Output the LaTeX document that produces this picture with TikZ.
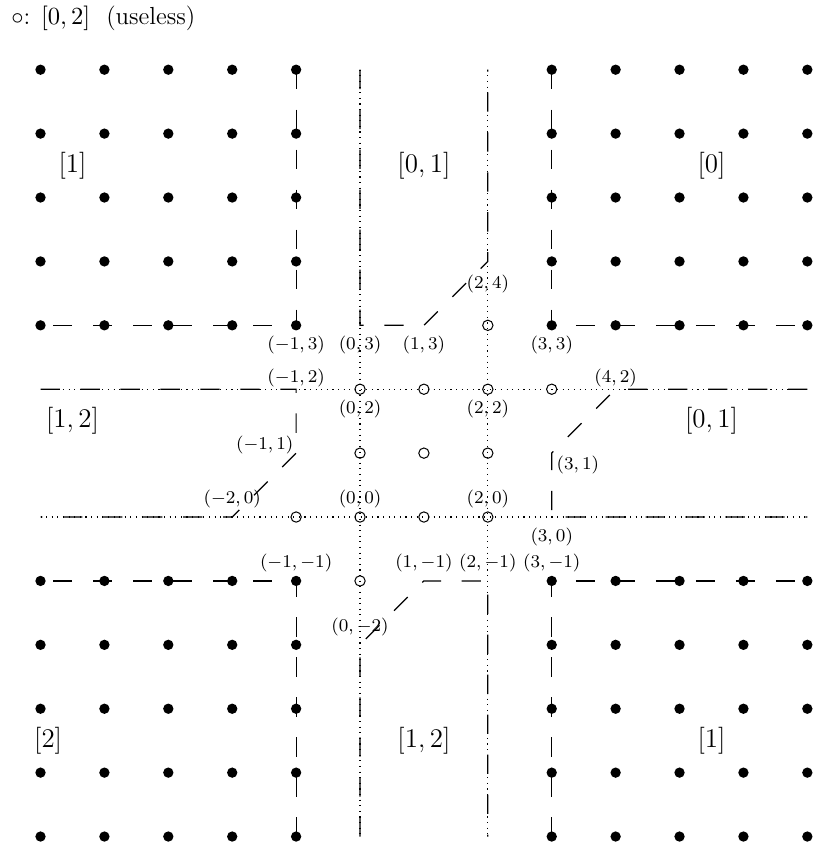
\documentclass[tikz,border=0pt]{standalone}
\usepackage{tikz}
\usetikzlibrary{positioning, calc}
\tikzset{
  fullDot/.style={circle, fill=black, inner sep=0pt, minimum size=4.6pt},
  openDot/.style={circle, draw=black, line width=0.45pt, inner sep=0pt, minimum size=4.6pt},
  wallLine/.style={dash pattern=on 8.6pt off 9.2pt, line width=0.55pt},
  gridLine/.style={dotted, line width=0.5pt},
  ptLbl/.style={font=\fontsize{8}{9.5}\selectfont, inner sep=1pt},
  regLbl/.style={font=\fontsize{12.5}{15}\selectfont},
  legendTxt/.style={font=\fontsize{11}{13}\selectfont, inner sep=1pt},
}

\begin{document}
\begin{tikzpicture}
  \useasboundingbox (-5.634,-5.148) rectangle (7.152,8.091);
  % corners of the walls
  \coordinate (nwC) at (-1,3);  \coordinate (neC) at (3,3);
  \coordinate (swC) at (-1,-1); \coordinate (seC) at (3,-1);
  \coordinate (tA) at (0,3);  \coordinate (tB) at (1,3);  \coordinate (tC) at (2,4);
  \coordinate (bA) at (0,-2); \coordinate (bB) at (1,-1); \coordinate (bC) at (2,-1);
  \coordinate (lA) at (-1,2); \coordinate (lB) at (-1,1); \coordinate (lC) at (-2,0);
  \coordinate (rA) at (4,2);  \coordinate (rB) at (3,1);  \coordinate (rC) at (3,0);
  % free ends at the border
  \coordinate (nwTop) at (-1,7); \coordinate (nwLeft) at (-5,3);
  \coordinate (neTop) at (3,7);  \coordinate (neRight) at (7,3);
  \coordinate (swBot) at (-1,-5); \coordinate (swLeft) at (-5,-1);
  \coordinate (seBot) at (3,-5);  \coordinate (seRight) at (7,-1);
  \coordinate (tTopL) at (0,7);  \coordinate (tTopR) at (2,7);
  \coordinate (bBotL) at (0,-5); \coordinate (bBotR) at (2,-5);
  \coordinate (lEndT) at (-5,2); \coordinate (lEndB) at (-5,0);
  \coordinate (rEndT) at (7,2);  \coordinate (rEndB) at (7,0);

  % dotted lines
  \draw[gridLine] (tTopL) -- (bBotL);
  \draw[gridLine] (tTopR) -- (bBotR);
  \draw[gridLine] (lEndT) -- (rEndT);
  \draw[gridLine] (lEndB) -- (rEndB);

  % dashed walls
  \draw[wallLine] (nwTop) -- (nwC) -- (nwLeft);
  \draw[wallLine] (neTop) -- (neC) -- (neRight);
  \draw[wallLine] (swBot) -- (swC) -- (swLeft);
  \draw[wallLine] (seBot) -- (seC) -- (seRight);
  \draw[wallLine] (tTopL) -- (tA) -- (tB) -- (tC) -- (tTopR);
  \draw[wallLine] (bBotL) -- (bA) -- (bB) -- (bC) -- (bBotR);
  \draw[wallLine] (lEndT) -- (lA) -- (lB) -- (lC) -- (lEndB);
  \draw[wallLine] (rEndT) -- (rA) -- (rB) -- (rC) -- (rEndB);

  % filled dots
  \foreach \x in {-5,...,-1} {
    \foreach \y in {3,...,7} \node[fullDot] (fd\x y\y) at (\x,\y) {};
    \foreach \y in {-5,...,-1} \node[fullDot] (fd\x y\y) at (\x,\y) {};
  }
  \foreach \x in {3,...,7} {
    \foreach \y in {3,...,7} \node[fullDot] (fd\x y\y) at (\x,\y) {};
    \foreach \y in {-5,...,-1} \node[fullDot] (fd\x y\y) at (\x,\y) {};
  }
  % open dots
  \foreach \x/\y in {2/3,0/2,1/2,2/2,3/2,0/1,1/1,2/1,-1/0,0/0,1/0,2/0,0/-1}
    \node[openDot] (od\x y\y) at (\x,\y) {};

  % point labels
  \node[ptLbl, below=3.6pt of nwC] (lbNw) {$(-1,3)$};
  \node[ptLbl, below=3.6pt of tA] (lbTA) {$(0,3)$};
  \node[ptLbl, below=3.6pt of tB] (lbTB) {$(1,3)$};
  \node[ptLbl, below=5pt of tC] (lbTC) {$(2,4)$};
  \node[ptLbl, below=3.6pt of neC] (lbNe) {$(3,3)$};
  \node[ptLbl, above=0pt of lA] (lbLA) {$(-1,2)$};
  \node[ptLbl, below=3.8pt of od0y2.center] (lb02) {$(0,2)$};
  \node[ptLbl, below=3.8pt of od2y2.center] (lb22) {$(2,2)$};
  \node[ptLbl, above=0pt of rA] (lbRA) {$(4,2)$};
  \node[ptLbl, above left=-1.5pt and 0pt of lB] (lbLB) {$(-1,1)$};
  \node[ptLbl, below right=0pt and 1pt of rB] (lbRB) {$(3,1)$};
  \node[ptLbl, above=3pt of lC] (lbLC) {$(-2,0)$};
  \node[ptLbl, above=3pt of od0y0.center] (lb00) {$(0,0)$};
  \node[ptLbl, above=3pt of od2y0.center] (lb20) {$(2,0)$};
  \node[ptLbl, below=3.6pt of rC] (lbRC) {$(3,0)$};
  \node[ptLbl, above=2.7pt of swC] (lbSw) {$(-1,-1)$};
  \node[ptLbl, above=2.7pt of bB] (lbBB) {$(1,-1)$};
  \node[ptLbl, above=2.7pt of bC] (lbBC) {$(2,-1)$};
  \node[ptLbl, above=2.7pt of seC] (lbSe) {$(3,-1)$};
  \node[ptLbl, above=2.7pt of bA] (lbBA) {$(0,-2)$};

  % region labels
  \node[regLbl] (regNw) at (-4.5,5.5) {$[1]$};
  \node[regLbl] (regN) at (1,5.5) {$[0,1]$};
  \node[regLbl] (regNe) at (5.5,5.5) {$[0]$};
  \node[regLbl] (regW) at (-4.5,1.5) {$[1,2]$};
  \node[regLbl] (regE) at (5.5,1.5) {$[0,1]$};
  \node[regLbl] (regSw) at (-4.88,-3.5) {$[2]$};
  \node[regLbl] (regS) at (1,-3.5) {$[1,2]$};
  \node[regLbl] (regSe) at (5.5,-3.5) {$[1]$};

  \node[legendTxt, anchor=west] (legend) at (-5.5,7.8) {$\circ$: $[0,2]$~~(useless)};
\end{tikzpicture}
\end{document}
